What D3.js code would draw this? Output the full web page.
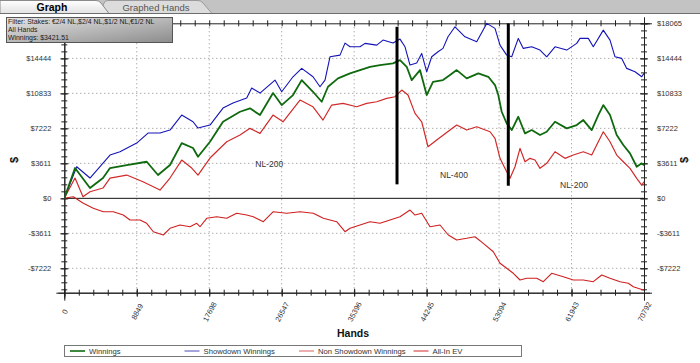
<!DOCTYPE html>
<html>
<head>
<meta charset="utf-8">
<script src="https://cdn.jsdelivr.net/npm/d3@7"></script>
<style>
  body{margin:0;background:#fff;}
  svg{display:block;font-family:"Liberation Sans",Arial,sans-serif;}
  .grid line{stroke:#8a8a8a;stroke-dasharray:1,3;}
  .axis path,.axis line{stroke:#222;}
  .axis text{fill:#333;font-size:7.5px;}
</style>
</head>
<body>
<svg width="700" height="363"></svg>
<script>
// [hands, $] points
const winnings = [[0,0],[1307,3126],[3138,1063],[4726,2094],[5581,3126],[7620,3436],[10063,3776],[11443,2404],
  [12908,3436],[14337,5705],[15717,5190],[16327,4292],[17793,5839],[19380,7903],[21457,8935],[22678,9285],
  [23899,8594],[25487,10864],[26549,9626],[27929,10657],[28991,12205],[30371,10998],[31434,9966],[32203,11514],
  [33424,12380],[34890,12896],[36111,13237],[37332,13577],[38553,13753],[40141,13928],[40996,14268],[41814,13577],
  [42424,12205],[43438,13237],[44256,10657],[45026,12030],[46246,12205],[47102,12721],[47920,13237],[49141,12380],
  [50558,12896],[51779,12545],[52597,11689],[53000,10657],[53415,8935],[54026,7738],[54637,7047],[55442,8419],
  [56260,6706],[57079,7047],[58093,6531],[58911,6871],[59924,7903],[61353,7222],[62574,7562],[63380,8078],
  [64406,7047],[65212,8594],[65822,9626],[66641,8594],[67459,6531],[68265,5499],[69083,4643],[69902,3260],
  [70512,3611],[70792,3421]];
const showdown = [[0,0],[1514,3260],[3138,2094],[5581,4467],[6802,4808],[8842,5705],[10221,6737],[11687,6737],
  [12908,7047],[14337,8594],[15717,7903],[16327,7253],[17793,7562],[19380,9316],[20602,9832],[22275,10348],
  [22885,11380],[23899,10864],[25731,12205],[26549,10998],[27929,12545],[28991,13412],[30371,12545],[31226,11514],
  [31837,12205],[32447,14609],[33669,14784],[34279,16022],[34890,15641],[36111,15641],[36722,15991],[38150,15816],
  [38920,16332],[40141,16022],[40996,16435],[41606,15641],[42217,13753],[43035,13959],[43646,14960],[44256,13061],
  [44867,14609],[45636,15125],[46246,15476],[46857,16672],[47712,17704],[48933,16672],[50362,16156],[51584,18055],
  [52597,17539],[53208,15816],[54026,14784],[54637,14609],[55442,16507],[56053,15476],[57079,15641],[58093,15300],
  [58911,14609],[59924,15641],[61353,15300],[62574,15991],[62977,16507],[63991,16507],[64601,15641],[65822,17363],
  [66641,16332],[67252,14609],[68070,14444],[68680,13412],[69694,13061],[70512,12545],[70792,12896]];
const non_showdown = [[0,0],[1099,165],[2320,-516],[3541,-1032],[4763,-1382],[5984,-1382],[7205,-1723],[8023,-2239],
  [9245,-2239],[10063,-2579],[10869,-3446],[12090,-3786],[12908,-3095],[14129,-2755],[15351,-2930],[16169,-2579],
  [16572,-2930],[17390,-2063],[18611,-1898],[19832,-2063],[21053,-1548],[22275,-1723],[23081,-1898],[24302,-2414],
  [25523,-1382],[27160,-1548],[28784,-1382],[30408,-1548],[31629,-2063],[33266,-2414],[34279,-3446],[34890,-3095],
  [36111,-2755],[37332,-2414],[38553,-2579],[39775,-2239],[40996,-1898],[42217,-1207],[42828,-1723],[43646,-1548],
  [44659,-2930],[45880,-2755],[46894,-3786],[47920,-4302],[49141,-4127],[50155,-3962],[51168,-4643],[52389,-5509],
  [53208,-6706],[54026,-7222],[54832,-7738],[55650,-8429],[56468,-8254],[57690,-8254],[58495,-8604],[59521,-7738],
  [60938,-8089],[62159,-8429],[63380,-8429],[64601,-8604],[65627,-7913],[66641,-8254],[67862,-8604],[68876,-8769],
  [69486,-9120],[70707,-9461],[70792,-9474]];
const allin_ev = [[0,0],[1307,2094],[2284,165],[3138,681],[4726,1063],[5581,2094],[7620,2404],[9611,1713],
  [11687,856],[12908,2094],[14337,3951],[15558,3126],[16327,2404],[17793,4158],[19832,5839],[21457,6531],
  [22678,7222],[23899,6706],[25487,8594],[26708,7903],[28784,10142],[30371,9450],[31593,8078],[32655,9626],
  [34035,9801],[35708,9450],[36929,9801],[38150,9966],[39371,10317],[40385,10482],[41203,11173],[41973,10657],
  [42828,8769],[43646,7903],[44415,5324],[45477,6015],[47102,7047],[47920,7562],[49141,7047],[50362,7387],
  [51987,6871],[52597,6190],[53208,4127],[53611,3436],[54429,2063],[55040,3260],[55650,5159],[56260,3776],
  [56871,4127],[57482,3951],[58093,3095],[58911,3611],[59924,4808],[61146,4127],[62159,4467],[63380,4808],
  [64406,4467],[65212,5839],[65822,6871],[66641,5839],[67459,4467],[68265,3776],[69083,3095],[69902,2063],
  [70512,1372],[70792,1713]];

const x_ticks = [0,8849,17698,26547,35396,44245,53094,61943,70792];
const y_ticks = [-7222,-3611,0,3611,7222,10833,14444,18065];
const legend_names = ["Winnings","Showdown Winnings","Non Showdown Winnings","All-In EV"];
const filter_lines = ["Filter: Stakes: €2/4 NL,$2/4 NL,$1/2 NL,€1/2 NL","All Hands","Winnings: $3421.51"];
// 스테이크 구간 표시 (hands, top $, bottom $)
const stake_marks = [[40630,17704,1444],[54221,18055,1300]];
const stake_labels = [["NL-200",23320,3281],["NL-400",45880,2094],["NL-200",60535,1063]];

const colors = {win:"#0f6a0f",sd:"#1414b8",nsd:"#cf2020",ev:"#d22a2a"};
const L = 64.3, R = 644, T = 23.3, B = 292.7;

let svg = d3.select("svg");
let x_scale = d3.scaleLinear().domain([0,70792]).range([L,R]);
let y_scale = d3.scaleLinear().domain([-9740,18065]).range([B,T]);

// tabs
function draw_tabs(){
  svg.append("rect").attr("width",700).attr("height",13.5).attr("fill","#c3c3c3");
  let defs = svg.append("defs");
  let g1 = defs.append("linearGradient").attr("id","tab_on").attr("x2",0).attr("y2",1);
  g1.append("stop").attr("offset",0).attr("stop-color","#ffffff");
  g1.append("stop").attr("offset",1).attr("stop-color","#e2e2e2");
  let g2 = defs.append("linearGradient").attr("id","filt").attr("x2",1).attr("y2",1);
  g2.append("stop").attr("offset",0).attr("stop-color","#e6e6e6");
  g2.append("stop").attr("offset",1).attr("stop-color","#8c8c8c");
  svg.append("path").attr("d","M100,13.5 L104,3 Q105,0.5 108,0.5 L198,0.5 Q201,0.5 203,3 L212,13.5 Z")
    .attr("fill","#dcdcdc").attr("stroke","#9a9a9a");
  svg.append("path").attr("d","M0,13.5 L0,0.5 L96,0.5 Q99,0.5 101,3 L109,13.5 Z")
    .attr("fill","url(#tab_on)").attr("stroke","#8a8a8a");
  svg.append("line").attr("x1",0).attr("x2",700).attr("y1",13.5).attr("y2",13.5).attr("stroke","#6e6e6e");
  svg.append("text").attr("x",52).attr("y",10.5).attr("text-anchor","middle")
    .attr("font-size","10.5px").attr("font-weight","bold").text("Graph");
  svg.append("text").attr("x",156).attr("y",10.5).attr("text-anchor","middle")
    .attr("font-size","9.5px").attr("fill","#555").text("Graphed Hands");
}
draw_tabs();

// grid
let grid = svg.append("g").attr("class","grid");
grid.selectAll(".gx").data(x_ticks.slice(1,-1)).enter().append("line")
  .attr("x1",d=>x_scale(d)).attr("x2",d=>x_scale(d)).attr("y1",T).attr("y2",B);
grid.selectAll(".gy").data(y_ticks.filter(d=>d!==0 && d<18000)).enter().append("line")
  .attr("y1",d=>y_scale(d)).attr("y2",d=>y_scale(d)).attr("x1",L).attr("x2",R);

// axes
const money = d=> d<0 ? "-$"+(-d) : "$"+d;
const x_minor = d3.range(0,70792+1,8849/5);
const y_minor = d3.range(-13,26).map(i=>i*3611/5).filter(d=>d>y_scale.domain()[0] && d<18060);

function cross_ticks(g,dx,dy){ g.selectAll(".tick line").attr("transform","translate("+dx+","+dy+")"); }

let ax_l = svg.append("g").attr("class","axis").attr("transform","translate("+L+",0)");
ax_l.call(d3.axisLeft(y_scale).tickValues(y_minor).tickSize(6).tickFormat(""));
cross_ticks(ax_l,3,0);
// 왼쪽 최상단 라벨은 필터 박스에 가려짐
let ax_l2 = svg.append("g").attr("class","axis").attr("transform","translate("+L+",0)");
ax_l2.call(d3.axisLeft(y_scale).tickValues(y_ticks.slice(0,-1)).tickSize(8).tickPadding(5).tickFormat(money));
cross_ticks(ax_l2,4,0);

let ax_r = svg.append("g").attr("class","axis").attr("transform","translate("+R+",0)");
ax_r.call(d3.axisRight(y_scale).tickValues(y_minor).tickSize(6).tickFormat(""));
cross_ticks(ax_r,-3,0);
let ax_r2 = svg.append("g").attr("class","axis").attr("transform","translate("+R+",0)");
ax_r2.call(d3.axisRight(y_scale).tickValues(y_ticks).tickSize(8).tickPadding(5).tickFormat(money));
cross_ticks(ax_r2,-4,0);

let ax_b = svg.append("g").attr("class","axis").attr("transform","translate(0,"+B+")");
ax_b.call(d3.axisBottom(x_scale).tickValues(x_minor).tickSize(6).tickFormat(""));
cross_ticks(ax_b,0,-3);
let ax_b2 = svg.append("g").attr("class","axis").attr("transform","translate(0,"+B+")");
ax_b2.call(d3.axisBottom(x_scale).tickValues(x_ticks).tickSize(8).tickFormat(d3.format("d")));
cross_ticks(ax_b2,0,-4);
ax_b2.selectAll("text").attr("y",0).attr("dy","0.35em").attr("text-anchor","middle")
  .attr("transform","translate(0,19) rotate(-62)");

let ax_t = svg.append("g").attr("class","axis").attr("transform","translate(0,"+T+")");
ax_t.call(d3.axisTop(x_scale).tickValues(x_minor).tickSize(6).tickFormat(""));
cross_ticks(ax_t,0,3);

// zero line
svg.append("line").attr("x1",L).attr("x2",R).attr("y1",y_scale(0)).attr("y2",y_scale(0))
  .attr("stroke","#111").attr("stroke-width",1);

svg.append("text").attr("x",353).attr("y",337).attr("text-anchor","middle")
  .attr("font-size","10.5px").attr("font-weight","bold").attr("fill","#111").text("Hands");
[18,688].forEach(px=>{
  svg.append("text").attr("transform","translate("+px+",160) rotate(-90)").attr("text-anchor","middle")
    .attr("font-size","11px").attr("font-weight","bold").attr("fill","#111").text("$");
});

// series
svg.append("clipPath").attr("id","plot_clip").append("rect")
  .attr("x",L).attr("y",T-3).attr("width",R-L+1).attr("height",B-T+3);
let line_fn = d3.line().x(d=>x_scale(d[0])).y(d=>y_scale(d[1]));
function draw_series(data,color,w){
  svg.append("path").datum(data).attr("clip-path","url(#plot_clip)")
    .attr("fill","none").attr("stroke",color).attr("stroke-width",w)
    .attr("stroke-linejoin","round").attr("d",line_fn);
}
draw_series(non_showdown,colors.nsd,1.1);
draw_series(allin_ev,colors.ev,1.2);
draw_series(showdown,colors.sd,1.1);
draw_series(winnings,colors.win,1.8);

// stake change marks
stake_marks.forEach(m=>{
  svg.append("line").attr("x1",x_scale(m[0])).attr("x2",x_scale(m[0]))
    .attr("y1",y_scale(m[1])).attr("y2",y_scale(m[2])).attr("stroke","#000").attr("stroke-width",3);
});
stake_labels.forEach(s=>{
  svg.append("text").attr("x",x_scale(s[1])).attr("y",y_scale(s[2]))
    .attr("font-size","8.5px").attr("fill","#333").text(s[0]);
});

// filter box
svg.append("rect").attr("x",6.5).attr("y",17.5).attr("width",166).attr("height",25)
  .attr("fill","url(#filt)").attr("stroke","#555");
filter_lines.forEach((t,i)=>{
  svg.append("text").attr("x",8).attr("y",24.3+i*7.6).attr("font-size","6.9px").attr("fill","#1a1a1a").text(t);
});

// legend
let lg = svg.append("g");
lg.append("rect").attr("x",64.5).attr("y",345.5).attr("width",457).attr("height",11)
  .attr("fill","#fff").attr("stroke","#777");
let lg_colors = [colors.win,"#4a4ab8","#d86060",colors.ev];
legend_names.forEach((n,i)=>{
  let tx = 89 + i*114.5;
  lg.append("line").attr("x1",tx-19).attr("x2",tx-4).attr("y1",351).attr("y2",351)
    .attr("stroke",lg_colors[i]).attr("stroke-width",i===0?1.6:1);
  lg.append("text").attr("x",tx).attr("y",354).attr("font-size","7.7px").attr("fill","#333").text(n);
});
</script>
</body>
</html>
